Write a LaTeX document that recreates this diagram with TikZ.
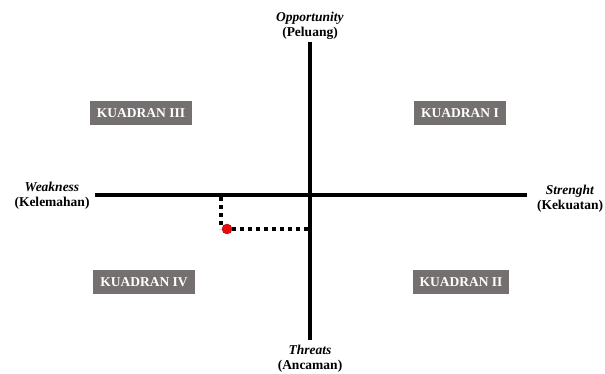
\documentclass[tikz,border=0pt]{standalone}
\usepackage{fontspec}
\setmainfont{Liberation Serif}
\usetikzlibrary{positioning}
\definecolor{boxgray}{RGB}{117,112,112}
\definecolor{dotred}{RGB}{235,10,10}

\begin{document}
\begin{tikzpicture}[x=1pt,y=-1pt,
  axis/.style={line width=3.5pt},
  quad/.style={fill=boxgray,text=white,font=\bfseries\fontsize{13.5}{14}\selectfont,
    inner xsep=7pt,minimum height=24pt},
  lbl/.style={align=center,font=\bfseries\fontsize{13.5}{15.5}\selectfont},
  guide/.style={line width=3.5pt,dash pattern=on 4pt off 4pt}]

  \useasboundingbox (0,0) rectangle (605,374);

  % the two axes
  \coordinate (top) at (310,42);
  \coordinate (bottom) at (310,340);
  \coordinate (left) at (95,195);
  \coordinate (right) at (527,195);
  \draw[axis] (top) -- (bottom) (left) -- (right);

  % axis labels
  \node[lbl] (opp) at (310,26) {\textit{Opportunity}\\(Peluang)};
  \node[lbl] (thr) at (310,359) {\textit{Threats}\\(Ancaman)};
  \node[lbl] (weak) at (52,196) {\textit{Weakness}\\(Kelemahan)};
  \node[lbl] (str) at (570,199) {\textit{Strenght}\\(Kekuatan)};

  % quadrants
  \node[quad] (q3) at (141,113) {KUADRAN III};
  \node[quad] (q1) at (460,113) {KUADRAN I};
  \node[quad] (q4) at (144,282) {KUADRAN IV};
  \node[quad] (q2) at (461,282) {KUADRAN II};

  % position of the point
  \node[circle,fill=dotred,draw=dotred!70!black,inner sep=0pt,minimum size=10pt] (pos) at (227,229) {};
  \coordinate (px) at (221,197);
  \coordinate (pxend) at (221,229);
  \coordinate (py) at (308,229);
  \draw[guide] (px) -- (pxend);
  \draw[guide] (pos.east) -- (py);

\end{tikzpicture}
\end{document}
